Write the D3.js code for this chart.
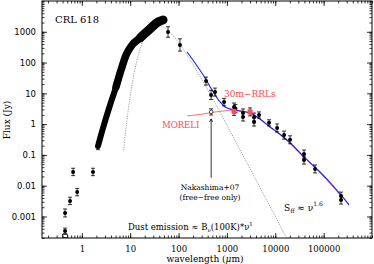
<!DOCTYPE html>
<html>
<head>
<meta charset="utf-8">
<script src="https://cdnjs.cloudflare.com/ajax/libs/d3/7.8.5/d3.min.js"></script>
<style>
body { margin: 0; background: #fff; }
text { font-family: "DejaVu Serif", serif; }
</style>
</head>
<body>
<div id="chart"></div>
<script>
// ISO spectrum (thick black band), wavelength in micron, flux in Jy
var specWl = [2.16, 2.74, 3.83, 5.09, 6.47, 8.21, 10.9, 16.0, 25.7, 37.6, 47.8];
var specFlux = [0.195, 0.75, 4.19, 16.1, 57.4, 176, 372, 630, 1233, 2080, 2417];

// photometry with error bars (err in dex)
var photWl = [0.45, 0.45, 0.57, 0.66, 0.80, 1.7, 2.16, 60.6, 107, 370, 470, 568, 873, 1403, 1500,
    2153, 2153, 3640, 3640, 4610, 7430, 10900, 15200, 20200, 39300, 39300, 66400, 229000, 229000];
var photFlux = [3.4e-4, 1.3e-3, 3.2e-3, 0.028, 6.2e-3, 0.028, 0.195, 985, 373, 25, 8.9, 11, 5.2, 3.6, 3.2,
    2.3, 1.7, 1.7, 1.17, 1.98, 1.1, 0.75, 0.44, 0.31, 0.107, 0.068, 0.035, 0.0046, 0.0034];
var photErr = [0.09, 0.13, 0.12, 0.12, 0.12, 0.12, 0.12, 0.17, 0.2, 0.13, 0.15, 0.13, 0.12, 0.13, 0.13,
    0.13, 0.13, 0.13, 0.13, 0.1, 0.1, 0.13, 0.13, 0.13, 0.13, 0.13, 0.13, 0.13, 0.13];

// 30m RRLs (red)
var rrlWl = [1403, 3010];
var rrlFlux = [2.6, 2.5];

// Nakashima+07
var nakWl = [472];
var nakFlux = [2.5];

// dust emission model B_nu(100K)*nu^1
var dustWl = [7.3, 8, 9, 10, 12, 15, 20, 25, 30, 40, 50, 60, 100, 150, 200, 300, 500, 1000, 2000, 3000, 5000, 10000, 16000, 20000];
var dustFlux = [0.14, 0.54, 2.5, 8.2, 43, 194, 680, 1170, 1490, 1600, 1380, 1120, 450, 177, 86, 29, 6.9, 0.93, 0.12, 0.036, 0.0079, 0.001, 0.00024, 0.000125];

// total model (blue)
var totWl = [150, 353, 492, 721, 914, 1403, 3010, 4840, 7800, 10900, 17500, 39300, 84300, 218000, 335000];
var totFlux = [221, 31.6, 12.9, 5.25, 3.6, 2.88, 2.30, 1.47, 0.81, 0.556, 0.305, 0.086, 0.028, 0.0054, 0.0024];

// free-free (red)
var ffWl = [150, 300, 500, 1000, 1403, 3010, 4840, 7800, 10900, 17500, 39300, 84300, 218000];
var ffFlux = [1.85, 2.1, 2.4, 2.75, 2.85, 2.2, 1.42, 0.78, 0.53, 0.29, 0.082, 0.026, 0.0050];

var xMajor = [1, 10, 100, 1000, 10000, 100000];
var yMajor = [0.001, 0.01, 0.1, 1, 10, 100, 1000];

var width = 374, height = 264;

var svg = d3.select("#chart").append("svg")
    .attr("width", width)
    .attr("height", height);

var x = d3.scaleLog().domain([0.15, 1e6]).range([42, 372]);
var y = d3.scaleLog().domain([2e-4, 1e4]).range([238, 1]);

function minors(dom) {
    var out = [];
    for (var e = -5; e <= 7; e++) {
        for (var m = 1; m <= 9; m++) {
            var v = m * Math.pow(10, e);
            if (v >= dom[0] && v <= dom[1]) out.push(v);
        }
    }
    return out;
}

var red = "#ff4a4a";

var plot = svg.append("g");

var line = d3.line()
    .x(function (d) { return x(d[0]); })
    .y(function (d) { return y(d[1]); })
    .curve(d3.curveMonotoneX);

plot.append("clipPath").attr("id", "clip")
    .append("rect").attr("x", 42).attr("y", 1).attr("width", 330).attr("height", 237);

var inner = plot.append("g").attr("clip-path", "url(#clip)");

// dust curve
inner.append("path")
    .datum(d3.zip(dustWl, dustFlux))
    .attr("d", line)
    .attr("fill", "none")
    .attr("stroke", "#777")
    .attr("stroke-width", 0.7)
    .attr("stroke-dasharray", "1.2,1.2");

// free-free line
inner.append("path")
    .datum(d3.zip(ffWl, ffFlux))
    .attr("d", line)
    .attr("fill", "none")
    .attr("stroke", red)
    .attr("stroke-width", 0.8);

// total model
inner.append("path")
    .datum(d3.zip(totWl, totFlux))
    .attr("d", line)
    .attr("fill", "none")
    .attr("stroke", "#1a1aff")
    .attr("stroke-width", 1.1);

// ISO spectrum band, getting thicker towards the peak
var spec = d3.zip(specWl, specFlux);
[[0, 6], [5, 7.5], [15, 9]].forEach(function (s) {
    inner.append("path")
        .datum(spec.filter(function (d) { return d[0] >= s[0]; }))
        .attr("d", line)
        .attr("fill", "none")
        .attr("stroke", "#000")
        .attr("stroke-width", s[1])
        .attr("stroke-linecap", "round")
        .attr("stroke-linejoin", "round");
});

// error bars
function errbar(g, wl, fl, dex) {
    var lo = fl / Math.pow(10, dex), hi = fl * Math.pow(10, dex);
    g.append("line").attr("x1", x(wl)).attr("x2", x(wl))
        .attr("y1", y(lo)).attr("y2", y(hi)).attr("stroke", "#000").attr("stroke-width", 0.8);
    [lo, hi].forEach(function (v) {
        g.append("line").attr("x1", x(wl) - 2).attr("x2", x(wl) + 2)
            .attr("y1", y(v)).attr("y2", y(v)).attr("stroke", "#000").attr("stroke-width", 0.8);
    });
}

photWl.forEach(function (wl, i) {
    errbar(inner, wl, photFlux[i], photErr[i]);
    inner.append("circle").attr("cx", x(wl)).attr("cy", y(photFlux[i])).attr("r", 2).attr("fill", "#000");
});

// small open box at bottom under the 0.45 micron point
inner.append("rect")
    .attr("x", x(0.45) - 2.5).attr("y", y(2.3e-4) - 1.5)
    .attr("width", 5).attr("height", 3)
    .attr("fill", "none").attr("stroke", "#000").attr("stroke-width", 0.7);

rrlWl.forEach(function (wl, i) {
    errbar(inner, wl, rrlFlux[i], 0.13);
    inner.append("rect").attr("x", x(wl) - 2.5).attr("y", y(rrlFlux[i]) - 2.5)
        .attr("width", 5).attr("height", 5).attr("fill", red);
});

nakWl.forEach(function (wl, i) {
    errbar(inner, wl, nakFlux[i], 0.1);
    inner.append("circle").attr("cx", x(wl)).attr("cy", y(nakFlux[i])).attr("r", 1.8)
        .attr("fill", "#fff").attr("stroke", "#000").attr("stroke-width", 0.7);
    // arrow pointing to it
    var ax = x(wl), ytop = y(nakFlux[i]) + 7, ybot = y(0.018);
    inner.append("line").attr("x1", ax).attr("x2", ax).attr("y1", ytop).attr("y2", ybot)
        .attr("stroke", "#000").attr("stroke-width", 0.8);
    inner.append("path")
        .attr("d", "M" + (ax - 1.5) + "," + (ytop + 3) + "L" + ax + "," + ytop + "L" + (ax + 1.5) + "," + (ytop + 3))
        .attr("fill", "none").attr("stroke", "#000").attr("stroke-width", 0.8);
});

// axes, ticks inward on all sides
function drawAxis(axisFn, tr, scale, vals, size, labels, font, pad) {
    var a = axisFn(scale).tickValues(vals).tickSize(size).tickPadding(pad || 3);
    if (!labels) a.tickFormat("");
    else a.tickFormat(function (d) { return (+d).toString(); });
    var g = svg.append("g").attr("transform", tr).call(a);
    g.select(".domain").remove();
    g.selectAll(".tick line").attr("stroke", "#000").attr("stroke-width", 0.8);
    g.selectAll("text").attr("fill", "#000").style("font-size", "8.5px").style("font-family", font || "DejaVu Serif");
    return g;
}

var xMin = minors(x.domain()), yMin = minors(y.domain());
drawAxis(d3.axisBottom, "translate(0,238)", x, xMin, -2.5, false);
drawAxis(d3.axisBottom, "translate(0,238)", x, xMajor, -5, true, "DejaVu Serif", 8);
drawAxis(d3.axisTop, "translate(0,1)", x, xMin, -2.5, false);
drawAxis(d3.axisTop, "translate(0,1)", x, xMajor, -5, false);
drawAxis(d3.axisLeft, "translate(42,0)", y, yMin, -2.5, false);
drawAxis(d3.axisLeft, "translate(42,0)", y, yMajor, -5, true, "DejaVu Sans", 6);
drawAxis(d3.axisRight, "translate(372,0)", y, yMin, -2.5, false);
drawAxis(d3.axisRight, "translate(372,0)", y, yMajor, -5, false);

svg.append("rect").attr("x", 42).attr("y", 1).attr("width", 330).attr("height", 237)
    .attr("fill", "none").attr("stroke", "#000").attr("stroke-width", 1);

// labels
svg.append("text").attr("x", 205).attr("y", 262).attr("text-anchor", "middle")
    .style("font-size", "9px").html("wavelength (<tspan font-style='italic'>μ</tspan>m)");
svg.append("text").attr("transform", "translate(10,120) rotate(-90)").attr("text-anchor", "middle")
    .style("font-size", "9px").text("Flux (Jy)");

svg.append("text").attr("x", 55).attr("y", 23).style("font-size", "10px").text("CRL 618");
svg.append("text").attr("x", 224).attr("y", 97).attr("fill", red).style("font-size", "9px").text("30m\u2212RRLs");
svg.append("text").attr("x", 162).attr("y", 128).attr("fill", red).style("font-size", "8.5px").text("MORELI");
svg.append("text").attr("x", 210).attr("y", 190).attr("text-anchor", "middle").style("font-size", "7.5px").text("Nakashima+07");
svg.append("text").attr("x", 210).attr("y", 200).attr("text-anchor", "middle").style("font-size", "7.5px").text("(free\u2212free only)");

var sff = svg.append("text").attr("x", 284).attr("y", 211).style("font-size", "9px");
sff.append("tspan").text("S");
sff.append("tspan").attr("dy", 2).style("font-size", "6px").text("ff");
sff.append("tspan").attr("dy", -2).text(" \u2248 \u03bd");
sff.append("tspan").attr("dy", -5).style("font-size", "6px").text("1.6");

var dust = svg.append("text").attr("x", 128).attr("y", 230).style("font-size", "8.5px");
dust.append("tspan").text("Dust emission \u2248 B");
dust.append("tspan").attr("dy", 2).style("font-size", "5.5px").text("\u03bd");
dust.append("tspan").attr("dy", -2).text("(100K)*\u03bd");
dust.append("tspan").attr("dy", -4).style("font-size", "5.5px").text("1");
</script>
</body>
</html>
